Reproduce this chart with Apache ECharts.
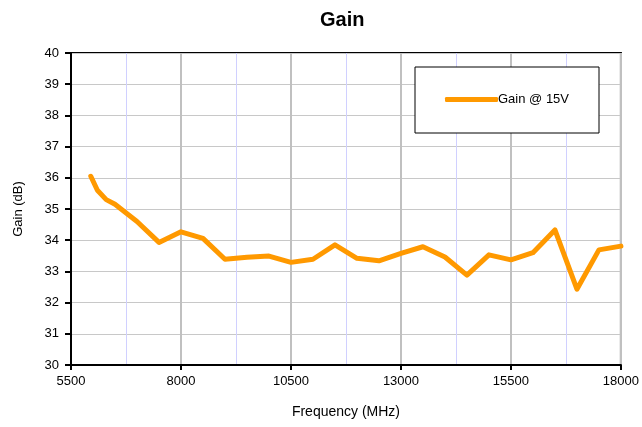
<!DOCTYPE html>
<html>
<head>
<meta charset="utf-8">
<script src="https://cdn.jsdelivr.net/npm/echarts@6/dist/echarts.min.js"></script>
<style>html,body{margin:0;padding:0;background:#fff}#c{width:642px;height:427px}</style>
</head>
<body>
<div id="c"></div>
<script>
var frequencies = [5950, 6100, 6300, 6500, 7000, 7500, 8000, 8500, 9000, 9500, 10000, 10500, 11000, 11500, 12000, 12500, 13000, 13500, 14000, 14500, 15000, 15500, 16000, 16500, 17000, 17500, 18000];
var gain15V = [36.05, 35.6, 35.3, 35.15, 34.6, 33.93, 34.27, 34.06, 33.39, 33.45, 33.49, 33.29, 33.39, 33.85, 33.42, 33.34, 33.58, 33.79, 33.46, 32.88, 33.53, 33.37, 33.6, 34.33, 32.43, 33.69, 33.81];
var seriesName = 'Gain @ 15V';
var titleText = 'Gain';
var xName = 'Frequency (MHz)';
var yName = 'Gain (dB)';

var font = 'Liberation Sans, Arial, sans-serif';
var chart = echarts.init(document.getElementById('c'));
chart.setOption({
  animation: false,
  title: {text: titleText, left: 315, top: 5, textStyle: {fontFamily: font, fontSize: 20, fontWeight: 'bold', color: '#000'}},
  grid: {left: 71, right: 19, top: 53, bottom: 62, show: true, borderColor: '#000', borderWidth: 2, backgroundColor: '#fff'},
  legend: {
    data: [{name: seriesName, icon: 'roundRect'}], left: 415, top: 67, orient: 'vertical',
    backgroundColor: '#fff', borderColor: '#000', borderWidth: 1,
    padding: [26, 30, 27, 30], itemWidth: 53, itemHeight: 5, itemGap: 0,
    itemStyle: {color: '#ff9900'},
    textStyle: {fontFamily: font, fontSize: 13, color: '#000', width: 106, padding: [0, 0, 0, -5]}
  },
  xAxis: {
    type: 'value', min: 5500, max: 18000, interval: 2500,
    name: xName, nameLocation: 'middle', nameGap: 40,
    nameTextStyle: {fontFamily: font, fontSize: 14, color: '#000'},
    axisLine: {lineStyle: {color: '#000', width: 2}},
    axisTick: {show: true, length: 5, lineStyle: {color: '#000', width: 2}},
    axisLabel: {fontFamily: font, fontSize: 13, color: '#000', margin: 10, formatter: function (v) { return String(v); }},
    splitLine: {show: true, lineStyle: {color: '#c0c0c0', width: 2}},
    minorTick: {show: false, splitNumber: 2},
    minorSplitLine: {show: true, lineStyle: {color: '#d0d0ff', width: 1}}
  },
  yAxis: {
    type: 'value', min: 30, max: 40, interval: 1,
    name: yName, nameLocation: 'middle', nameGap: 46, nameRotate: 90,
    nameTextStyle: {fontFamily: font, fontSize: 13, color: '#000'},
    axisLine: {show: true, lineStyle: {color: '#000', width: 2}},
    axisTick: {show: true, length: 6, lineStyle: {color: '#000', width: 2}},
    axisLabel: {fontFamily: font, fontSize: 13, color: '#000', margin: 12},
    splitLine: {show: true, lineStyle: {color: '#c8c8c8', width: 1}}
  },
  series: [{
    name: seriesName, type: 'line', symbol: 'none', showSymbol: false,
    data: frequencies.map(function (f, i) { return [f, gain15V[i]]; }),
    lineStyle: {color: '#ff9900', width: 5, cap: 'round', join: 'round'},
    itemStyle: {color: '#ff9900'}
  }]
});
</script>
</body>
</html>
